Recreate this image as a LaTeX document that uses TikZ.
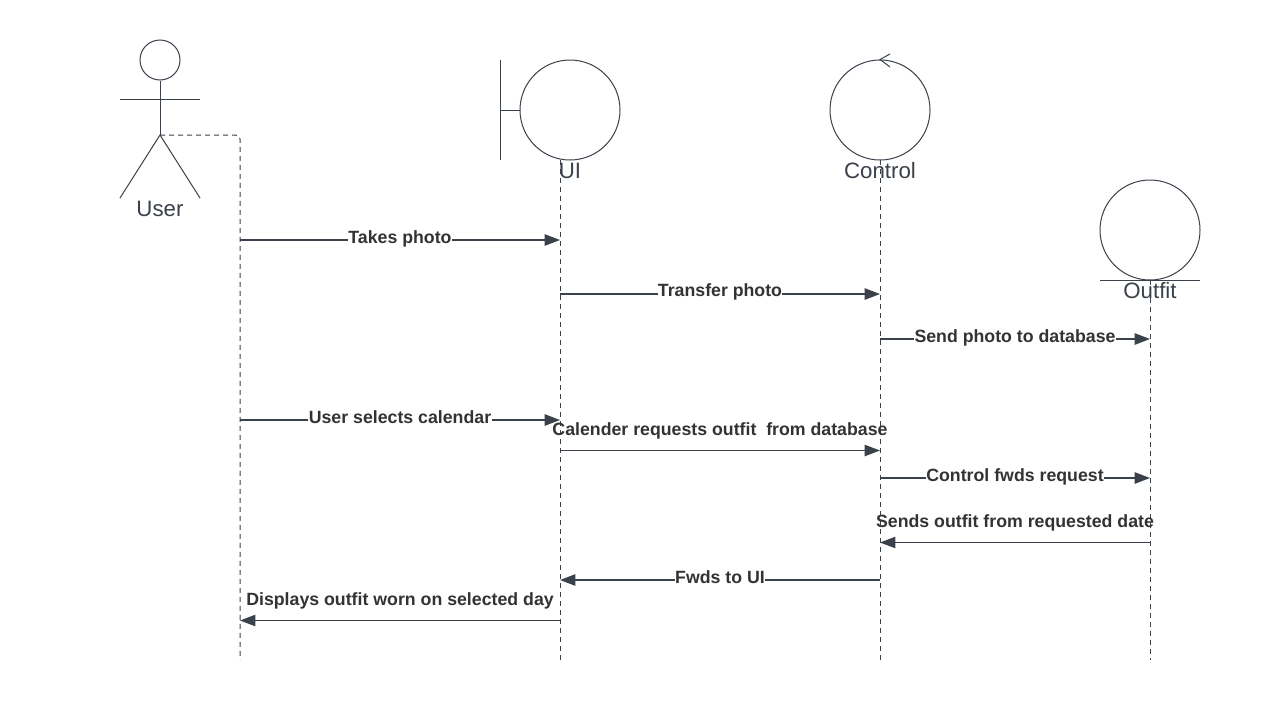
\documentclass[tikz,border=0pt]{standalone}
\usepackage{fontspec}
\setmainfont{Liberation Sans}
\usetikzlibrary{arrows.meta}
\definecolor{ink}{HTML}{3A414A}
\definecolor{labelink}{HTML}{333333}
\tikzset{
  shapeline/.style={draw=ink,line width=.75pt},
  lifeline/.style={draw=ink,line width=.75pt,dash pattern=on 3.75pt off 3pt},
  circlebox/.style={circle,shapeline,minimum size=75pt,inner sep=0pt},
  actorname/.style={font=\fontsize{16.7pt}{20pt}\selectfont,text=ink,anchor=base,inner sep=0pt},
  msgthick/.style={draw=ink,line width=1.1pt,-{Triangle[length=11.5pt,width=8.5pt]}},
  msgthin/.style={draw=ink,line width=.8pt,-{Triangle[length=11.5pt,width=8.5pt]}},
  msglabel/.style={font=\bfseries\fontsize{13.3pt}{16pt}\selectfont,text=labelink,anchor=base,inner sep=0pt},
  msgfill/.style={msglabel,fill=white,inner xsep=.3pt,inner ysep=1pt}
}
\begin{document}
\begin{tikzpicture}[x=.75pt,y=-.75pt]
\fill[white] (0,0) rectangle (1280,700);
\useasboundingbox (0,0) rectangle (1280,700);
% actor
\node[circle,shapeline,minimum size=30pt,inner sep=0pt] (head) at (160,60) {};
\coordinate (hip) at (160,135);
\coordinate (armL) at (120,99);
\coordinate (armR) at (200,99);
\coordinate (legL) at (120,198);
\coordinate (legR) at (200,198);
\draw[shapeline] (head.south) -- (hip);
\draw[shapeline] (armL) -- (armR);
\draw[shapeline] (legL) -- (hip) -- (legR);
% objects
\node[circlebox] (ui) at (570,110) {};
\node[circlebox] (control) at (880,110) {};
\node[circlebox] (outfit) at (1150,230) {};
\coordinate (bTop) at (500.5,60);
\coordinate (bBot) at (500.5,160);
\coordinate (bMid) at (500.5,110.5);
\draw[shapeline] (bTop) -- (bBot);
\draw[shapeline] (bMid) -- (bMid -| ui.west);
\coordinate (eL) at (1100,280);
\coordinate (eR) at (1200,280);
\draw[shapeline] (eL) -- (eR);
\coordinate (cA) at (890,54);
\coordinate (cB) at (890,67);
\draw[shapeline] (cA) -- (control.north) -- (cB);
% lifelines
\coordinate (uTop) at (240,135);
\coordinate (uiTop) at (560,160);
\coordinate (cTop) at (880,160);
\coordinate (oTop) at (1150,280);
\coordinate (uEnd) at (240,660);
\coordinate (uiEnd) at (560,660);
\coordinate (cEnd) at (880,660);
\coordinate (oEnd) at (1150,660);
\draw[lifeline,rounded corners=3pt] (hip) -- (uTop) -- (uEnd);
\draw[lifeline] (uiTop) -- (uiEnd);
\draw[lifeline] (cTop) -- (cEnd);
\draw[lifeline] (oTop) -- (oEnd);
% names
\node[actorname] (nUser) at (160,216) {User};
\node[actorname] (nUI) at (570,178.2) {UI};
\node[actorname] (nControl) at (880,178.2) {Control};
\node[actorname] (nOutfit) at (1150,298.2) {Outfit};
% messages
\coordinate (m1a) at (240,240); \coordinate (m1b) at (560,240);
\coordinate (m2a) at (560,294); \coordinate (m2b) at (880,294);
\coordinate (m3a) at (880,339); \coordinate (m3b) at (1150,339);
\coordinate (m4a) at (240,420); \coordinate (m4b) at (560,420);
\coordinate (m5a) at (560,450.5); \coordinate (m5b) at (880,450.5);
\coordinate (m6a) at (880,478); \coordinate (m6b) at (1150,478);
\coordinate (m7a) at (1150,542.5); \coordinate (m7b) at (880,542.5);
\coordinate (m8a) at (880,580); \coordinate (m8b) at (560,580);
\coordinate (m9a) at (560,620.5); \coordinate (m9b) at (240,620.5);
\draw[msgthick] (m1a) -- (m1b);
\draw[msgthick] (m2a) -- (m2b);
\draw[msgthick] (m3a) -- (m3b);
\draw[msgthick] (m4a) -- (m4b);
\draw[msgthin] (m5a) -- (m5b);
\draw[msgthick] (m6a) -- (m6b);
\draw[msgthin] (m7a) -- (m7b);
\draw[msgthick] (m8a) -- (m8b);
\draw[msgthin] (m9a) -- (m9b);
% labels
\node[msgfill] (l1) at (400,243) {Takes photo};
\node[msgfill] (l2) at (720,296) {Transfer photo};
\node[msgfill] (l3) at (1015,342) {Send photo to database};
\node[msgfill] (l4) at (400,423) {User selects calendar};
\node[msglabel] (l5) at (720,435) {Calender requests outfit\ \ from database};
\node[msgfill] (l6) at (1015,481) {Control fwds request};
\node[msglabel] (l7) at (1015,527) {Sends outfit from requested date};
\node[msgfill] (l8) at (720,583) {Fwds to UI};
\node[msglabel] (l9) at (400,605) {Displays outfit worn on selected day};
\end{tikzpicture}
\end{document}
